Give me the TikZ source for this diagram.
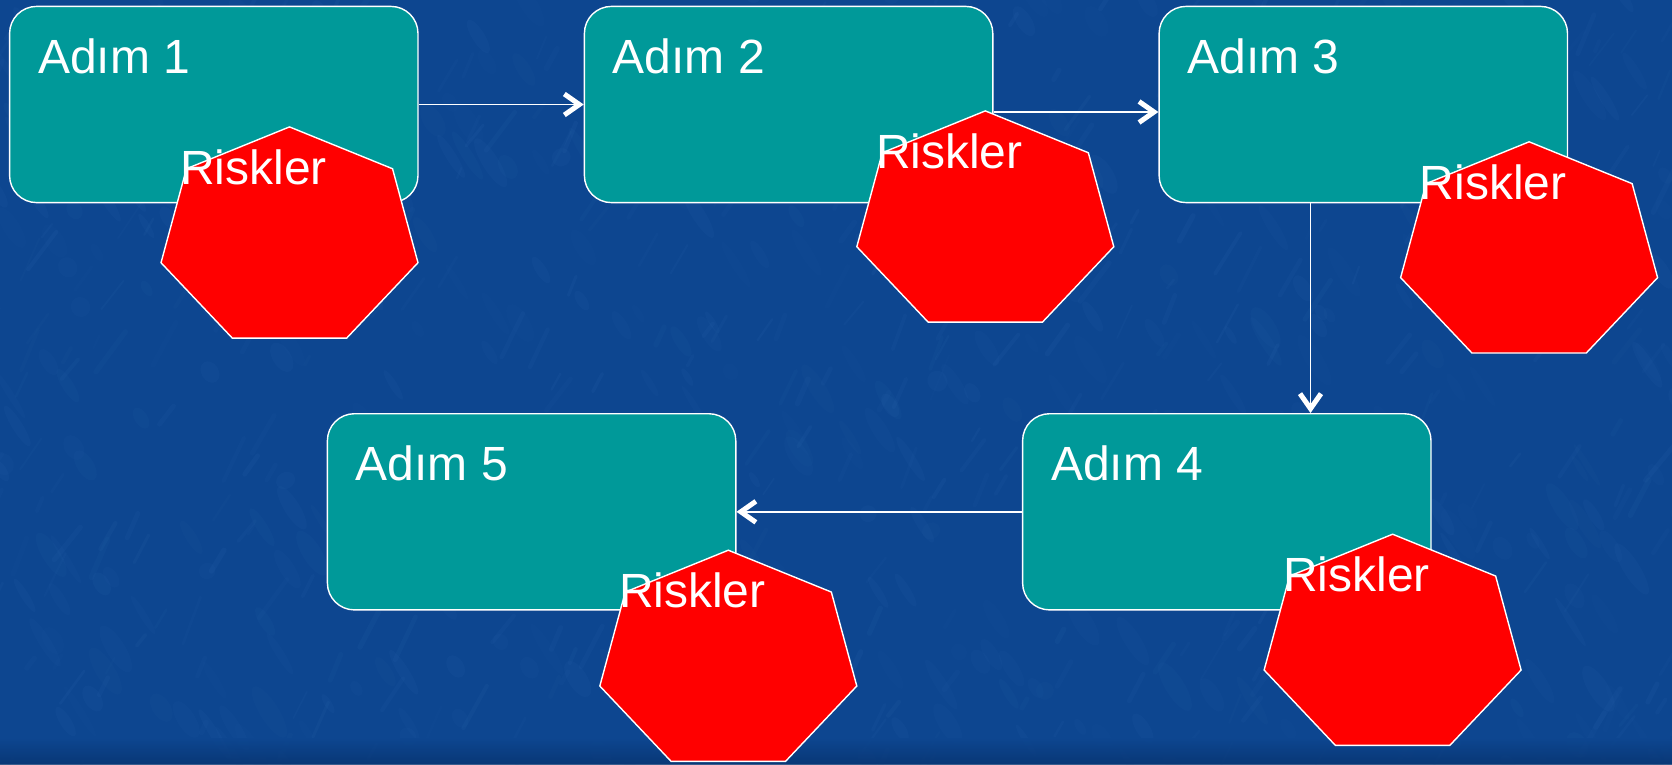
\documentclass[tikz,border=0pt]{standalone}
\usepackage{fontspec}
\setmainfont{Liberation Sans}
\usetikzlibrary{calc,arrows.meta}

\definecolor{bgblue}{RGB}{13,70,144}
\definecolor{bgdark}{RGB}{8,52,112}
\definecolor{streakblue}{RGB}{70,130,200}
\definecolor{stepteal}{RGB}{0,153,153}
\definecolor{riskred}{RGB}{255,0,0}

\tikzset{
  stepbox/.style={rectangle, rounded corners=27pt, draw=white, line width=1.4pt,
    fill=stepteal, minimum width=408.4pt, minimum height=196.2pt, inner sep=0pt},
  steplabel/.style={anchor=base west, inner sep=0pt, text=white,
    font=\fontsize{48}{56}\selectfont},
  riskshape/.style={draw=white, line width=1.4pt, fill=riskred, line join=miter},
  flow/.style={draw=white, line width=1.6pt,
    -{Straight Barb[length=15pt, width=21pt, line width'=5pt]}},
  streak/.style={draw=streakblue, line cap=round},
  blotch/.style={fill=streakblue},
}

% red heptagon with its "Riskler" caption; #1 = name, #2 = centre
\newcommand\riskat[2]{%
  \coordinate (#1) at #2;
  \draw[riskshape] ($(#1)+(-90:131.8 and 111.1)$)
    \foreach \k in {1,...,6} { -- ($(#1)+({-90+\k*360/7}:131.8 and 111.1)$) } -- cycle;
  \node[steplabel] (#1-t) at ($(#1)+(-109.5,-53.7)$) {Riskler};
}

\begin{document}
\begin{tikzpicture}[x=1pt, y=-1pt]
  \useasboundingbox (0,0) rectangle (1672,764);

  % mottled blue backdrop
  \fill[bgblue] (0,0) rectangle (1672,764);
  \begin{scope}
    \clip (0,0) rectangle (1672,764);
    \pgfmathsetseed{11}
    % soft patches
    \foreach \i in {1,...,420}{
      \pgfmathsetmacro\sx{rnd*1720-30}
      \pgfmathsetmacro\sy{rnd*800-20}
      \pgfmathsetmacro\ra{8+rnd*22}
      \pgfmathsetmacro\rb{3+rnd*7}
      \pgfmathsetmacro\op{0.025+rnd*0.04}
      \fill[blotch, opacity=\op, rotate around={-58:(\sx,\sy)}] (\sx,\sy) ellipse ({\ra} and {\rb});
    }
    % fine diagonal grain
    \foreach \i in {1,...,420}{
      \pgfmathsetmacro\sx{rnd*1720-30}
      \pgfmathsetmacro\sy{rnd*800-10}
      \pgfmathsetmacro\sl{10+rnd*40}
      \pgfmathsetmacro\sw{1.5+rnd*4}
      \pgfmathsetmacro\ang{-50-rnd*20}
      \pgfmathsetmacro\op{0.03+rnd*0.05}
      \draw[streak, opacity=\op, line width=\sw pt] (\sx,\sy) -- ++(\ang:\sl);
    }
    \shade[top color=bgblue, bottom color=bgdark, opacity=0.8] (0,738) rectangle (1672,764);
  \end{scope}

  % process steps
  \node[stepbox] (b1) at (213.8,104.5) {};
  \node[stepbox] (b2) at (788.6,104.5) {};
  \node[stepbox] (b3) at (1363.3,104.5) {};
  \node[stepbox] (b4) at (1226.8,511.8) {};
  \node[stepbox] (b5) at (531.6,511.8) {};

  \node[steplabel] (l1) at ($(b1.north west)+(29,67.5)$) {Adım 1};
  \node[steplabel] (l2) at ($(b2.north west)+(29,67.5)$) {Adım 2};
  \node[steplabel] (l3) at ($(b3.north west)+(29,67.5)$) {Adım 3};
  \node[steplabel] (l4) at ($(b4.north west)+(29,67.5)$) {Adım 4};
  \node[steplabel] (l5) at ($(b5.north west)+(29,67.5)$) {Adım 5};

  % connectors between steps
  \draw[flow] (b1.east) -- (b2.west);
  \draw[flow] ([yshift=-7.5pt]b2.east) -- ([yshift=-7.5pt]b3.west);
  \draw[flow] ([xshift=-52.8pt]b3.south) -- ([xshift=-52.8pt]b3.south |- b4.north);
  \draw[flow] (b4.west) -- (b5.east);

  % risks attached to each step
  \riskat{r1}{(289.5,238.0)}
  \riskat{r2}{(985.3,222.0)}
  \riskat{r3}{(1529.1,252.9)}
  \riskat{r4}{(1392.6,645.3)}
  \riskat{r5}{(728.3,661.3)}
\end{tikzpicture}
\end{document}
